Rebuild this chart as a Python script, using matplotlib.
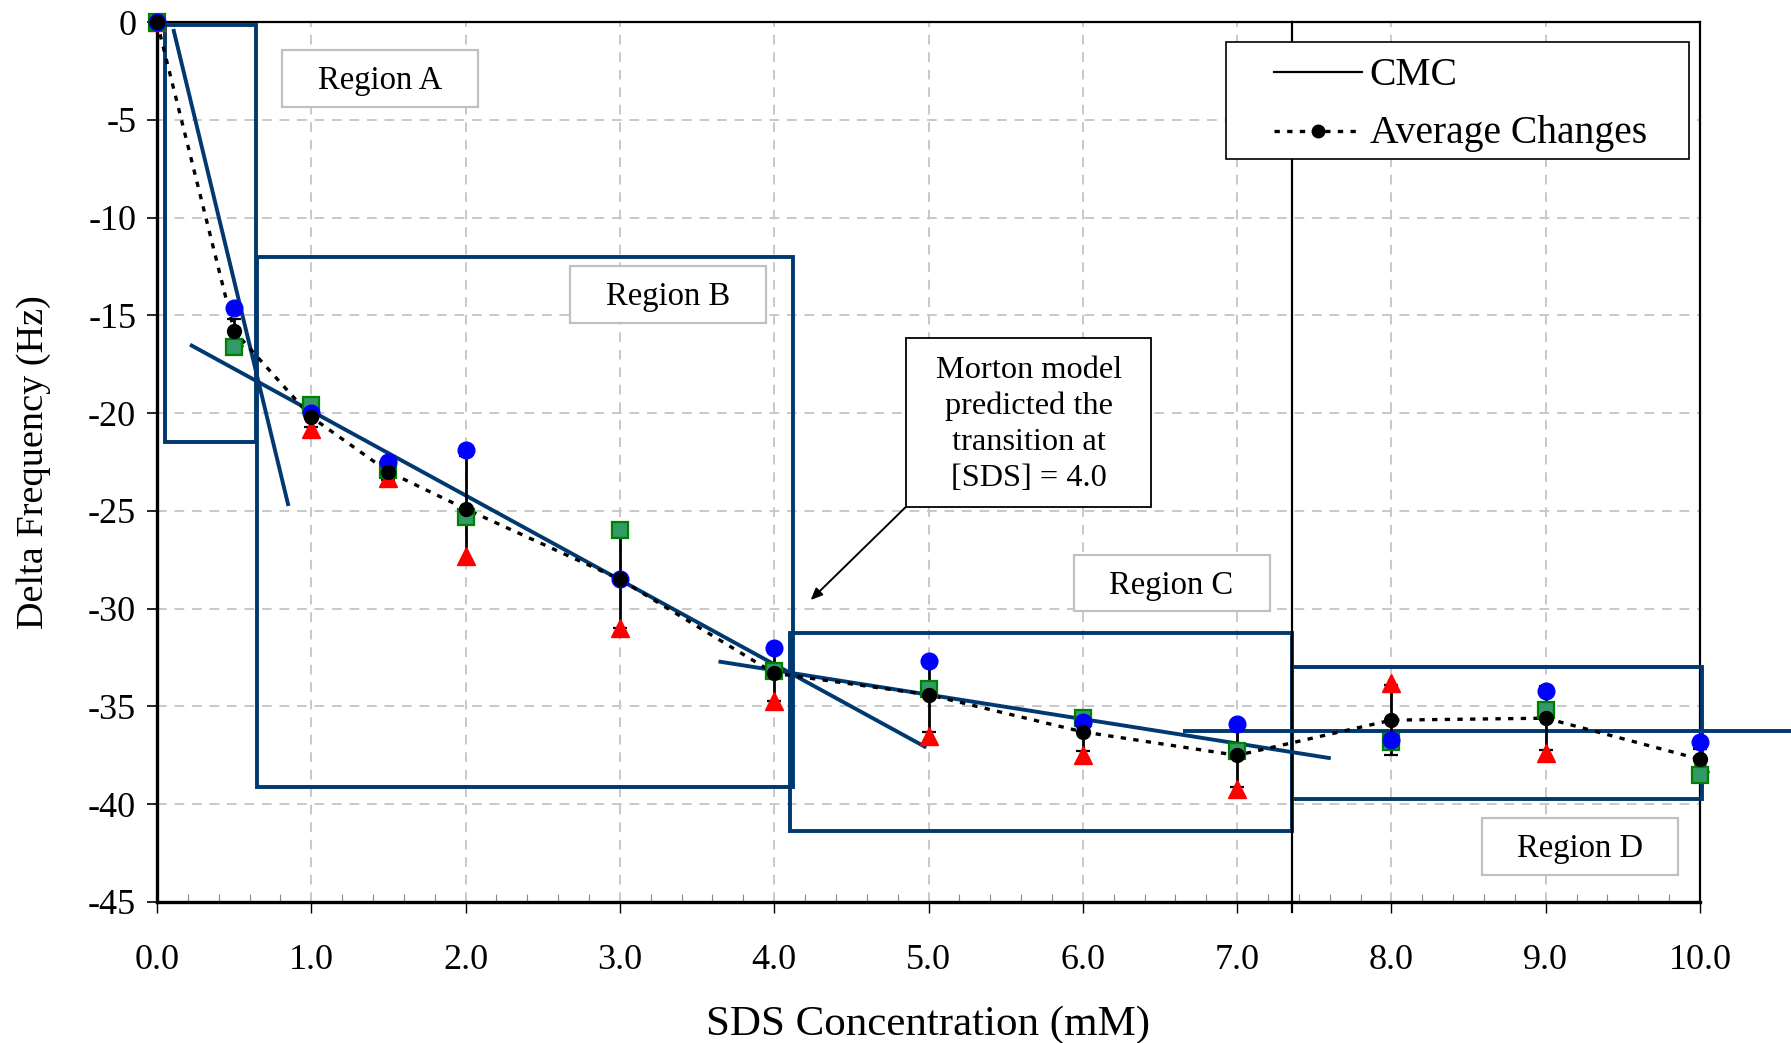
import matplotlib
matplotlib.use("Agg")
import matplotlib.pyplot as plt
from matplotlib.patches import Rectangle
from matplotlib.lines import Line2D
from matplotlib.ticker import MultipleLocator

# ---------------- data ----------------
conc = [0.0, 0.5, 1.0, 1.5, 2.0, 3.0, 4.0, 5.0, 6.0, 7.0, 8.0, 9.0, 10.0]
avg_change = [0, -15.8, -20.2, -23.0, -24.9, -28.5, -33.3, -34.4, -36.3, -37.5, -35.7, -35.6, -37.7]
avg_err = [0, 0.6, 0.5, 0.4, 2.7, 2.5, 1.4, 1.9, 1.0, 1.6, 1.8, 1.65, 0.5]
run_blue = [0, -14.6, -20.0, -22.5, -21.9, -28.5, -32.0, -32.7, -35.8, -35.9, -36.7, -34.2, -36.8]
run_red = [0, -16.1, -20.8, -23.3, -27.3, -31.0, -34.7, -36.5, -37.5, -39.2, -33.8, -37.4, -37.9]
run_green = [0, -16.6, -19.6, -22.9, -25.3, -26.0, -33.2, -34.1, -35.6, -37.3, -36.8, -35.2, -38.5]

# fitted lines (x pairs, y pairs)
fit_a_x = [0.106, 0.852]
fit_a_y = [-0.36, -24.75]
fit_b_x = [0.214, 4.986]
fit_b_y = [-16.5, -37.1]
fit_c_x = [3.639, 7.607]
fit_c_y = [-32.7, -37.65]
fit_d_x = [6.65, 10.59]
fit_d_y = [-36.25, -36.25]

cmc = 7.355

# region boxes: (x0, y_top, x1, y_bottom)
region_boxes = [
    (0.052, -0.14, 0.64, -21.5),
    (0.65, -12.03, 4.12, -39.13),
    (4.10, -31.22, 7.355, -41.38),
    (7.357, -33.0, 10.01, -39.75),
]
region_names = ["Region A", "Region B", "Region C", "Region D"]
# label frames: (x0, y_top, x1, y_bottom)
region_label_frames = [
    (0.808, -1.41, 2.082, -4.36),
    (2.677, -12.48, 3.945, -15.39),
    (5.940, -27.26, 7.210, -30.12),
    (8.586, -40.70, 9.859, -43.62),
]

morton_text = "Morton model\npredicted the\ntransition at\n[SDS] = 4.0"
morton_frame = (4.853, -16.16, 6.445, -24.80)
arrow_tip = (4.236, -29.56)

x_ticks = [0, 1, 2, 3, 4, 5, 6, 7, 8, 9, 10]
x_tick_labels = ["0.0", "1.0", "2.0", "3.0", "4.0", "5.0", "6.0", "7.0", "8.0", "9.0", "10.0"]
y_ticks = [0, -5, -10, -15, -20, -25, -30, -35, -40, -45]
legend_labels = ["CMC", "Average Changes"]

# ---------------- style ----------------
plt.rcParams['font.family'] = ['Liberation Serif', 'DejaVu Serif']
plt.rcParams['axes.unicode_minus'] = False
navy = '#003870'
dot_style = (0, (1.6, 2.2))

W, H = 1791, 1043
fig = plt.figure(figsize=(W / 100, H / 100), dpi=100)
ax = fig.add_axes([157 / W, 141 / H, 1543 / W, 880 / H])
ax.set_xlim(0, 10)
ax.set_ylim(-45, 0)

ax.grid(True, which='major', color='#c8c8c8', linestyle=(0, (5, 4)), linewidth=1.4, zorder=0)
ax.set_axisbelow(True)

for s in ax.spines.values():
    s.set_color('black')
    s.set_linewidth(1.6)
ax.spines['left'].set_linewidth(2.4)
ax.spines['bottom'].set_linewidth(2.4)

ax.set_xticks(x_ticks)
ax.set_xticklabels(x_tick_labels)
ax.set_yticks(y_ticks)
ax.xaxis.set_minor_locator(MultipleLocator(0.2))
ax.tick_params(axis='x', which='major', direction='out', length=8, width=1.0, pad=22, labelsize=26)
ax.tick_params(axis='x', which='minor', direction='in', length=6, width=0.8, color='#888888')
ax.tick_params(axis='y', which='major', direction='out', length=7, width=1.2, pad=8, labelsize=26)
ax.set_xlabel("SDS Concentration (mM)", fontsize=31, labelpad=21)
ax.set_ylabel("Delta Frequency (Hz)", fontsize=27.5, labelpad=27)

# region rectangles
for (x0, y0, x1, y1) in region_boxes:
    ax.add_patch(Rectangle((x0, y1), x1 - x0, y0 - y1, fill=False, edgecolor=navy,
                           linewidth=2.8, zorder=3, clip_on=False))

# CMC line
ax.plot([cmc, cmc], [0, -45.5], color='black', linewidth=1.6, zorder=3, clip_on=False)

# fitted lines
for fx_, fy_ in [(fit_a_x, fit_a_y), (fit_b_x, fit_b_y), (fit_c_x, fit_c_y), (fit_d_x, fit_d_y)]:
    ax.plot(fx_, fy_, color=navy, linewidth=2.8, zorder=4, clip_on=False, solid_capstyle='butt')

# error bars + average dotted line
ax.errorbar(conc, avg_change, yerr=avg_err, fmt='none', ecolor='black', elinewidth=2.0,
            capsize=5, capthick=1.6, zorder=5, clip_on=False)
ax.plot(conc, avg_change, color='black', linestyle=dot_style, linewidth=2.4, zorder=5, clip_on=False)

ax.plot(conc, run_red, linestyle='none', marker='^', markersize=12.5, color='#ff0000',
        markeredgecolor='#ff0000', zorder=6, clip_on=False)
ax.plot(conc, run_green, linestyle='none', marker='s', markersize=11.5, markerfacecolor='#339966',
        markeredgecolor='#008000', markeredgewidth=1.6, zorder=7, clip_on=False)
ax.plot(conc, run_blue, linestyle='none', marker='o', markersize=12, color='#0000ff', zorder=8, clip_on=False)
ax.plot(conc, avg_change, linestyle='none', marker='o', markersize=10, color='black', zorder=9, clip_on=False)

# region labels
for name, (x0, y0, x1, y1) in zip(region_names, region_label_frames):
    ax.add_patch(Rectangle((x0, y1), x1 - x0, y0 - y1, facecolor='white', edgecolor='#c0c0c0',
                           linewidth=1.6, zorder=10))
    ax.text((x0 + x1) / 2, (y0 + y1) / 2 - 0.12, name, fontsize=23.5, ha='center', va='center', zorder=11)

# Morton annotation
mx0, my0, mx1, my1 = morton_frame
ax.add_patch(Rectangle((mx0, my1), mx1 - mx0, my0 - my1, facecolor='white', edgecolor='black',
                       linewidth=1.3, zorder=10))
ax.text((mx0 + mx1) / 2, (my0 + my1) / 2 - 0.1, morton_text, fontsize=23.3, ha='center', va='center',
        linespacing=1.3, zorder=11)
ax.annotate("", xy=arrow_tip, xytext=(mx0, my1), zorder=11,
            arrowprops=dict(arrowstyle='-|>,head_length=0.7,head_width=0.3', color='black',
                            linewidth=1.4, shrinkA=0, shrinkB=0))

# manual legend (figure pixel coordinates of the reference)
def fx(px):
    return px / W

def fy(py):
    return 1 - py / H

fig.add_artist(Rectangle((fx(1225.6), fy(158.8)), fx(1689.3) - fx(1225.6), fy(42.3) - fy(158.8),
                         transform=fig.transFigure, facecolor='white', edgecolor='black',
                         linewidth=1.2, zorder=20))
fig.add_artist(Line2D([fx(1273.6), fx(1361.5)], [fy(72), fy(72)], transform=fig.transFigure,
                      color='black', linewidth=1.6, zorder=21))
fig.add_artist(Line2D([fx(1273.6), fx(1361.5)], [fy(131.4), fy(131.4)], transform=fig.transFigure,
                      color='black', linewidth=2.4, linestyle=dot_style, zorder=21))
fig.add_artist(Line2D([fx(1317.5)], [fy(131.4)], transform=fig.transFigure, color='black',
                      marker='o', markersize=9, linestyle='none', zorder=22))
fig.text(fx(1369.5), fy(75.5), legend_labels[0], fontsize=28.5, ha='left', va='center', zorder=22)
fig.text(fx(1369.5), fy(134), legend_labels[1], fontsize=28.5, ha='left', va='center', zorder=22)

fig.savefig("out.png", dpi=100, facecolor='white')
